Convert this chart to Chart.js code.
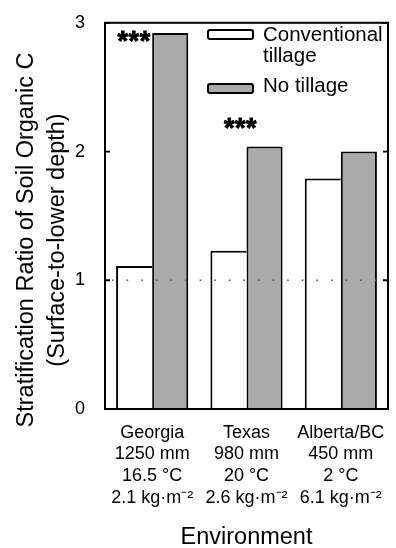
<!DOCTYPE html>
<html>
<head>
<meta charset="utf-8">
<script src="https://cdn.jsdelivr.net/npm/chart.js@4.4.1/dist/chart.umd.min.js"></script>
<style>
  html, body { margin: 0; padding: 0; background: #fff; }
  #wrap { width: 396px; height: 548px; }
</style>
</head>
<body>
<div id="wrap"><canvas id="c" width="396" height="548"></canvas></div>
<script>
// Sites: name, annual precipitation, mean temperature, soil organic C stock
const environments = [
  ['Georgia', '1250 mm', '16.5 °C', '2.1 kg·m⁻²'],
  ['Texas', '980 mm', '20 °C', '2.6 kg·m⁻²'],
  ['Alberta/BC', '450 mm', '2 °C', '6.1 kg·m⁻²']
];
// Stratification ratio of soil organic C (surface-to-lower depth)
const conventionalTillage = [1.11, 1.23, 1.79];
const noTillage = [2.92, 2.04, 2.00];
const yTicks = [0, 1, 2, 3];
const legendLabels = [['Conventional', 'tillage'], ['No tillage']];
const significance = ['***', '***', ''];
const yTitle = ['Stratification Ratio of Soil Organic C', '(Surface-to-lower depth)'];
const xTitle = 'Environment';

const FONT = "'Liberation Sans', Arial, Helvetica, sans-serif";
Chart.defaults.font.family = FONT;
Chart.defaults.color = '#000';

const NT_GREY = '#aaaaaa';

// Frame, inward ticks, reference line, significance marks, legend and axis titles
const decorations = {
  id: 'decorations',
  afterDatasetsDraw(chart) {
    const { ctx, chartArea: a, scales } = chart;
    const y = scales.y, x = scales.x;
    ctx.save();

    // dotted reference line at ratio 1
    ctx.strokeStyle = '#555';
    ctx.lineWidth = 1.6;
    ctx.setLineDash([1.6, 13]);
    ctx.beginPath();
    const y1 = y.getPixelForValue(1);
    ctx.moveTo(a.left + 7, y1);
    ctx.lineTo(a.right, y1);
    ctx.stroke();
    ctx.setLineDash([]);

    // plot frame
    ctx.strokeStyle = '#000';
    ctx.lineWidth = 2;
    ctx.strokeRect(a.left, a.top, a.right - a.left, a.bottom - a.top);

    // inward tick marks on both sides
    ctx.lineWidth = 1.8;
    yTicks.forEach(v => {
      const py = y.getPixelForValue(v);
      ctx.beginPath();
      ctx.moveTo(a.left, py); ctx.lineTo(a.left + 5, py);
      ctx.moveTo(a.right, py); ctx.lineTo(a.right - 5, py);
      ctx.stroke();
    });

    // significance marks
    ctx.fillStyle = '#000';
    ctx.strokeStyle = '#000';
    ctx.lineWidth = 0.8;
    ctx.font = `700 27px ${FONT}`;
    ctx.textAlign = 'center';
    ctx.textBaseline = 'middle';
    if ('letterSpacing' in ctx) ctx.letterSpacing = '0.5px';
    const ct = chart.getDatasetMeta(0).data;
    significance.forEach((s, i) => {
      if (!s) return;
      const top = y.getPixelForValue(noTillage[i]);
      let px, py;
      if (i === 0) { px = ct[i].x; py = top + 9; }
      else { px = x.getPixelForValue(i) - 6; py = top - 17; }
      ctx.fillText(s, px, py);
      ctx.strokeText(s, px, py);
    });
    if ('letterSpacing' in ctx) ctx.letterSpacing = '0px';

    // legend
    const lx = 208, bw = 45, bh = 9;
    const legendRows = [
      { fill: '#ffffff', boxY: 30, lines: legendLabels[0], base: [41, 62] },
      { fill: NT_GREY, boxY: 84, lines: legendLabels[1], base: [92] }
    ];
    ctx.font = `20.5px ${FONT}`;
    ctx.textAlign = 'left';
    ctx.textBaseline = 'alphabetic';
    legendRows.forEach(r => {
      ctx.fillStyle = r.fill;
      ctx.strokeStyle = '#000';
      ctx.lineWidth = 2;
      ctx.beginPath();
      ctx.roundRect(lx, r.boxY, bw, bh, 2);
      ctx.fill();
      ctx.stroke();
      ctx.fillStyle = '#000';
      r.lines.forEach((t, k) => ctx.fillText(t, 263, r.base[k]));
    });

    // axis titles
    ctx.font = `23.5px ${FONT}`;
    ctx.textAlign = 'center';
    ctx.textBaseline = 'alphabetic';
    const titleY = 240;
    [33, 64].forEach((bx, k) => {
      ctx.save();
      ctx.translate(bx, titleY);
      ctx.rotate(-Math.PI / 2);
      ctx.fillText(yTitle[k], 0, 0);
      ctx.restore();
    });
    ctx.fillText(xTitle, (a.left + a.right) / 2, 544);

    ctx.restore();
  }
};

new Chart(document.getElementById('c'), {
  type: 'bar',
  data: {
    labels: environments,
    datasets: [
      {
        label: legendLabels[0].join(' '),
        data: conventionalTillage,
        backgroundColor: '#ffffff',
        borderColor: '#000',
        borderWidth: { top: 2, left: 2, right: 0, bottom: 0 },
        borderSkipped: false
      },
      {
        label: legendLabels[1].join(' '),
        data: noTillage,
        backgroundColor: NT_GREY,
        borderColor: '#000',
        borderWidth: { top: 2, left: 2, right: 2, bottom: 0 },
        borderSkipped: false
      }
    ]
  },
  options: {
    responsive: false,
    animation: false,
    devicePixelRatio: 1,
    layout: { padding: { top: 14, right: 8, left: 0, bottom: 0 } },
    datasets: { bar: { categoryPercentage: 0.765, barPercentage: 1 } },
    plugins: { legend: { display: false }, tooltip: { enabled: false } },
    scales: {
      x: {
        grid: { display: false },
        border: { display: false },
        ticks: {
          color: '#000',
          font: { size: 18, lineHeight: 1.2 },
          padding: 5,
          maxRotation: 0,
          autoSkip: false
        },
        afterFit(s) { s.height = 139; }
      },
      y: {
        min: 0,
        max: 3,
        grid: { display: false },
        border: { display: false },
        ticks: {
          color: '#000',
          font: { size: 18 },
          padding: 12,
          stepSize: 1
        },
        afterBuildTicks(s) { s.ticks = yTicks.map(v => ({ value: v })); },
        afterFit(s) { s.width = 105; }
      }
    }
  },
  plugins: [decorations]
});
</script>
</body>
</html>
